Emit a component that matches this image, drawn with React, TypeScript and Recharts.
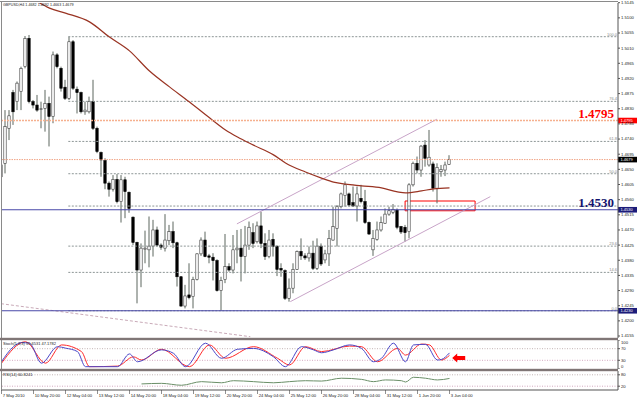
import React from "react";
import {
  Bar,
  ComposedChart,
  Line,
  ReferenceArea,
  ReferenceDot,
  ReferenceLine,
  XAxis,
  YAxis,
} from "recharts";

// GBPUSD H4, 7 May 2010 - 3 Jun 2010, one entry per bar
const opens = [
  1.4628, 1.4668, 1.4772, 1.4878, 1.4851, 1.4881, 1.4955, 1.5039, 1.4851, 1.4841,
  1.4829, 1.4831, 1.4846, 1.4807, 1.499, 1.495, 1.4894, 1.4861, 1.5029, 1.4888,
  1.4878, 1.4821, 1.4821, 1.4851, 1.4772, 1.47, 1.4676, 1.4609, 1.4591, 1.462,
  1.4554, 1.4619, 1.4582, 1.4508, 1.4433, 1.4351, 1.4413, 1.4411, 1.4422, 1.447,
  1.4425, 1.4416, 1.4438, 1.4465, 1.4432, 1.4331, 1.4244, 1.4277, 1.4272, 1.4323,
  1.4399, 1.444, 1.4393, 1.4389, 1.4379, 1.429, 1.4323, 1.4361, 1.4351, 1.4411,
  1.4416, 1.4391, 1.4425, 1.4462, 1.4435, 1.4482, 1.443, 1.4391, 1.4442, 1.4421,
  1.4356, 1.4349, 1.4267, 1.4297, 1.4353, 1.4406, 1.4393, 1.4387, 1.4401, 1.4356,
  1.4422, 1.4381, 1.4399, 1.444, 1.4475, 1.4539, 1.4572, 1.4577, 1.4551, 1.4541,
  1.4564, 1.4554, 1.4492, 1.4411, 1.4442, 1.447, 1.449, 1.4517, 1.4522, 1.4529,
  1.448, 1.4478, 1.4465, 1.4604, 1.4668, 1.4648, 1.4722, 1.4663, 1.4666, 1.4594,
  1.4643, 1.4648, 1.4665,
];
const highs = [
  1.4673, 1.4826, 1.4826, 1.4886, 1.4911, 1.4955, 1.5046, 1.5049, 1.4856, 1.4871,
  1.4851, 1.4886, 1.4866, 1.5, 1.4995, 1.4955, 1.4916, 1.5044, 1.5034, 1.4896,
  1.4881, 1.4851, 1.4866, 1.4916, 1.4777, 1.4703, 1.4683, 1.4614, 1.4633, 1.4636,
  1.4633, 1.4628, 1.4584, 1.451, 1.4435, 1.443, 1.4468, 1.451, 1.45, 1.448,
  1.443, 1.4517, 1.4485, 1.4495, 1.4435, 1.4333, 1.4307, 1.4371, 1.4331, 1.4401,
  1.4448, 1.4465, 1.4399, 1.4401, 1.4383, 1.4331, 1.4458, 1.4371, 1.4455, 1.447,
  1.4473, 1.4482, 1.4495, 1.449, 1.4495, 1.4524, 1.446, 1.447, 1.446, 1.4425,
  1.4371, 1.4353, 1.4326, 1.4371, 1.4409, 1.4445, 1.4401, 1.4421, 1.4438, 1.4445,
  1.443, 1.4411, 1.447, 1.4539, 1.4544, 1.4581, 1.4614, 1.4581, 1.4599, 1.4599,
  1.4604, 1.4589, 1.4495, 1.447, 1.4495, 1.451, 1.4534, 1.4539, 1.4547, 1.4534,
  1.4482, 1.4485, 1.4609, 1.4673, 1.4688, 1.4722, 1.4737, 1.4767, 1.4673, 1.4668,
  1.4663, 1.4673, 1.4692,
];
const lows = [
  1.4599, 1.4638, 1.4737, 1.4782, 1.4826, 1.4826, 1.495, 1.4846, 1.4831, 1.4821,
  1.4772, 1.4762, 1.4718, 1.4787, 1.495, 1.4881, 1.4856, 1.4856, 1.4886, 1.4816,
  1.4816, 1.4812, 1.4816, 1.4767, 1.4698, 1.4628, 1.4591, 1.4569, 1.4584, 1.4549,
  1.4492, 1.4505, 1.4521, 1.4425, 1.4252, 1.43, 1.4371, 1.4359, 1.4391, 1.4421,
  1.4411, 1.4406, 1.4425, 1.4416, 1.4302, 1.4242, 1.4237, 1.4264, 1.4237, 1.432,
  1.4393, 1.4389, 1.4371, 1.432, 1.4287, 1.423, 1.4312, 1.4346, 1.4341, 1.4371,
  1.4317, 1.4341, 1.4411, 1.4416, 1.443, 1.4416, 1.4381, 1.4386, 1.4391, 1.4333,
  1.4331, 1.4262, 1.4257, 1.4282, 1.4351, 1.4381, 1.4381, 1.4376, 1.4351, 1.4351,
  1.4363, 1.4371, 1.4363, 1.4438, 1.4421, 1.4534, 1.4539, 1.4539, 1.4539, 1.4495,
  1.4549, 1.4488, 1.4455, 1.4393, 1.4438, 1.4465, 1.4488, 1.4512, 1.4517, 1.4472,
  1.4458, 1.4435, 1.4445, 1.4599, 1.4638, 1.4628, 1.4658, 1.4658, 1.4584, 1.4549,
  1.4628, 1.463, 1.4663,
];
const closes = [
  1.4663, 1.4777, 1.4809, 1.4821, 1.4906, 1.495, 1.5039, 1.4851, 1.4841, 1.4826,
  1.483, 1.4846, 1.4807, 1.499, 1.4955, 1.4891, 1.4861, 1.5029, 1.4891, 1.4878,
  1.4821, 1.4826, 1.4851, 1.4772, 1.4703, 1.4678, 1.4609, 1.4591, 1.462, 1.4554,
  1.4619, 1.4584, 1.4534, 1.4433, 1.4351, 1.4416, 1.4416, 1.4422, 1.447, 1.4425,
  1.4419, 1.444, 1.4465, 1.4432, 1.4331, 1.4244, 1.4274, 1.4269, 1.4323, 1.4399,
  1.444, 1.4391, 1.4389, 1.4379, 1.429, 1.432, 1.4361, 1.4351, 1.4411, 1.4416,
  1.4391, 1.4425, 1.4478, 1.443, 1.4482, 1.443, 1.4391, 1.444, 1.4421, 1.4353,
  1.4351, 1.4267, 1.4297, 1.4353, 1.4406, 1.4393, 1.4387, 1.4401, 1.4356, 1.4422,
  1.4369, 1.4399, 1.4445, 1.448, 1.4539, 1.4577, 1.4604, 1.4544, 1.4541, 1.4577,
  1.4554, 1.4492, 1.4458, 1.4445, 1.447, 1.4492, 1.4517, 1.4527, 1.4531, 1.4478,
  1.4464, 1.4462, 1.4604, 1.4668, 1.4648, 1.4719, 1.4683, 1.4686, 1.4594, 1.4656,
  1.465, 1.4663, 1.4679,
];

// moving average: [bar, price]
const maPoints: [number, number][] = [
  [8, 1.5155], [12, 1.5129], [16, 1.5114], [22, 1.5088], [27, 1.5043], [32, 1.5002],
  [37, 1.4942], [42, 1.4895], [47, 1.485], [52, 1.4803], [56, 1.4767], [59, 1.4746],
  [63, 1.4722], [68, 1.4693], [71, 1.4669], [76, 1.4642], [80, 1.4624], [83, 1.4612],
  [86, 1.4606], [90, 1.4601], [95, 1.4595], [99, 1.4583], [101, 1.458], [105, 1.4586],
  [108, 1.4592], [112, 1.4595],
];

// stochastic (5,3,3) turning points: [bar, value]
const stochMain: [number, number][] = [
  [0, 25], [3, 77], [5, 91], [7, 89], [10, 20], [14, 77], [16, 72], [19, 60], [21, 8],
  [29, 8], [32, 52], [34, 25], [40, 66], [43, 54], [46, 8], [51, 89], [55, 37], [59, 68],
  [63, 71], [68, 42], [71, 8], [75, 77], [78, 66], [80, 56], [83, 66], [87, 83], [90, 71],
  [93, 25], [95, 37], [98, 89], [101, 25], [103, 83], [106, 85], [109, 31], [110, 33],
  [112, 55.65],
];
const stochSignal: [number, number][] = [
  [0, 20], [6, 94], [11, 20], [15, 83], [20, 60], [22, 8], [29, 10], [33, 42], [35, 31],
  [40, 68], [47, 8], [52, 83], [56, 37], [63, 77], [69, 37], [72, 14], [76, 77], [80, 60],
  [87, 79], [90, 77], [94, 25], [99, 71], [101, 48], [105, 86], [107, 83], [110, 31],
  [112, 47.18],
];

// RSI(14): [bar, value]
const rsiPoints: [number, number][] = [
  [35, 32], [40, 35], [45, 25], [50, 44], [55, 38], [58, 49], [63, 44], [68, 38],
  [72, 44], [76, 49], [80, 47], [85, 62], [90, 56], [93, 44], [96, 53], [100, 49],
  [101, 42], [103, 67], [106, 62], [109, 53], [112, 60.82],
];

const timeTickBars = [0, 8, 16, 24, 32, 40, 48, 56, 64, 72, 80, 88, 96, 104, 112];
const timeTickLabels = [
  "7 May 2010", "10 May 20:00", "12 May 04:00", "13 May 12:00", "14 May 20:00",
  "18 May 04:00", "19 May 12:00", "20 May 20:00", "24 May 04:00", "25 May 12:00",
  "26 May 20:00", "28 May 04:00", "31 May 12:00", "1 Jun 20:00", "3 Jun 04:00",
];

const priceTicks = [
  1.4155, 1.42, 1.4245, 1.429, 1.4335, 1.438, 1.4425, 1.447, 1.4515, 1.456, 1.4605,
  1.465, 1.4695, 1.474, 1.4785, 1.483, 1.4875, 1.492, 1.4965, 1.501, 1.5055, 1.51,
  1.5145,
];

// fibonacci retracement levels drawn on the chart
const fibPrices = [1.5044, 1.4852, 1.4733, 1.4637, 1.4541, 1.4422, 1.4344, 1.423];
const fibLabels = ["100.0", "76.4", "61.8", "50.0", "", "23.6", "14.6", "0.0"];
const fibStartBar = 16.7;

const resistance = 1.4795;
const support = 1.4530;
const bid = 1.4679;
const swingLow = 1.423;

const upperChannel = [{ x: 58.85, y: 1.4488 }, { x: 108.85, y: 1.4799 }];
const lowerChannel = [{ x: 72.2, y: 1.4257 }, { x: 122.2, y: 1.4569 }];
const oldTrend = [{ x: -0.125, y: 1.4251 }, { x: 62.2, y: 1.4153 }];

const X_DOMAIN: [number, number] = [-0.125, 154.125];
const FONT = "Liberation Sans, Arial, sans-serif";

const pick = (pts: [number, number][], i: number) => {
  const f = pts.find((p) => p[0] === i);
  return f ? f[1] : null;
};

const rows = opens.map((o, i) => ({
  i,
  o,
  h: highs[i],
  l: lows[i],
  c: closes[i],
  ma: pick(maPoints, i),
  k: pick(stochMain, i),
  d: pick(stochSignal, i),
  rsi: pick(rsiPoints, i),
}));

const Candle = (props: any) => {
  const { x, y, width, height, payload } = props;
  if (x == null || !payload) return null;
  const { o, h, l, c } = payload;
  const span = h - l || 1e-9;
  const toY = (p: number) => y + ((h - p) / span) * height;
  const cx = x + width / 2;
  const up = c >= o;
  const top = toY(Math.max(o, c));
  const bot = toY(Math.min(o, c));
  return (
    <g>
      <line x1={cx} x2={cx} y1={y} y2={y + height} stroke="#5d675f" strokeWidth={1} />
      <rect
        x={cx - 1.2}
        y={top}
        width={2.4}
        height={Math.max(bot - top, 0.7)}
        fill={up ? "#ffffff" : "#000000"}
        stroke={up ? "#3a3a3a" : "#000000"}
        strokeWidth={0.6}
      />
    </g>
  );
};

const PriceTick = (props: any) => {
  const { x, y, payload } = props;
  return (
    <text x={x} y={y} dy={1.4} fontSize={4.2} fill="#222" fontFamily={FONT}>
      {payload.value.toFixed(4)}
    </text>
  );
};

const levelTick = (top: number, bottom: number) => (props: any) => {
  const { x, y, payload } = props;
  let dy = 1.4;
  if (payload.value === top) dy += 2.3;
  if (payload.value === bottom) dy -= 2;
  return (
    <text x={x} y={y} dy={dy} fontSize={4.2} fill="#222" fontFamily={FONT}>
      {payload.value}
    </text>
  );
};

const TimeTick = (props: any) => {
  const { x, y, payload } = props;
  const k = timeTickBars.indexOf(payload.value);
  return (
    <g>
      <line x1={x} x2={x} y1={y - 3} y2={y + 1} stroke="#444" strokeWidth={0.6} />
      <text x={x + 1.2} y={y + 4} fontSize={4.2} fill="#222" fontFamily={FONT}>
        {timeTickLabels[k]}
      </text>
    </g>
  );
};

const fibLabel = (text: string) => (p: any) => {
  const vb = p.viewBox;
  if (!vb || !text) return null;
  return (
    <text x={vb.x + vb.width - 1} y={vb.y - 1} textAnchor="end" fontSize={4} fill="#8a8a8a" fontFamily={FONT}>
      {text}
    </text>
  );
};

const boxLabel = (text: string, fill: string, big?: { color: string }) => (p: any) => {
  const vb = p.viewBox;
  if (!vb) return null;
  const right = vb.x + vb.width;
  return (
    <g>
      {big && (
        <text
          x={right - 4}
          y={vb.y - 2.3}
          textAnchor="end"
          fontSize={13}
          fontWeight="bold"
          fill={big.color}
          fontFamily="Liberation Serif, Times New Roman, serif"
        >
          {text}
        </text>
      )}
      <rect x={right} y={vb.y - 2.8} width={19} height={5.6} fill={fill} />
      <text x={right + 2.5} y={vb.y + 1.3} fontSize={4} fill="#fff" fontFamily={FONT}>
        {text}
      </text>
    </g>
  );
};

const LeftArrow = (props: any) => {
  const { cx, cy } = props;
  if (cx == null) return null;
  const pts = [
    [cx - 6.5, cy],
    [cx - 1.5, cy - 4.5],
    [cx - 1.5, cy - 2],
    [cx + 6.5, cy - 2],
    [cx + 6.5, cy + 2],
    [cx - 1.5, cy + 2],
    [cx - 1.5, cy + 4.5],
  ]
    .map((p) => p.join(","))
    .join(" ");
  return <polygon points={pts} fill="#ff0000" />;
};

export default function App() {
  return (
    <div
      style={{
        position: "fixed",
        left: 0,
        top: 0,
        width: 637,
        height: 399,
        background: "#ffffff",
        overflow: "hidden",
      }}
    >
      {/* main price window */}
      <div style={{ position: "absolute", left: 0, top: 0 }}>
        <ComposedChart width={637} height={340} data={rows} margin={{ top: 3, right: 0, bottom: 2, left: 1 }}>
          <XAxis dataKey="i" type="number" domain={X_DOMAIN} allowDataOverflow hide />
          <YAxis
            orientation="right"
            width={19}
            type="number"
            domain={[1.41491, 1.51441]}
            allowDataOverflow
            ticks={priceTicks}
            interval={0}
            tick={<PriceTick />}
            tickSize={2}
            tickMargin={1}
            tickLine={{ stroke: "#555" }}
            axisLine={{ stroke: "#555" }}
          />
          {fibPrices.map((p, k) => (
            <ReferenceLine
              key={"fib" + k}
              segment={[{ x: fibStartBar, y: p }, { x: X_DOMAIN[1], y: p }]}
              stroke="#8d9696"
              strokeDasharray="2 1.5"
              label={fibLabel(fibLabels[k])}
            />
          ))}
          <ReferenceLine segment={oldTrend} stroke="#c9aab8" strokeDasharray="3 2" />
          <ReferenceLine segment={upperChannel} stroke="#c8a4c8" />
          <ReferenceLine segment={lowerChannel} stroke="#c8a4c8" />
          <ReferenceLine y={bid} stroke="#f0a486" strokeDasharray="1.5 1" label={boxLabel("1.4679", "#000000")} />
          <ReferenceLine y={swingLow} stroke="#4848a8" label={boxLabel("1.4230", "#1c1c7a")} />
          <ReferenceArea
            x1={100.9}
            x2={118.4}
            y1={1.4527}
            y2={1.4556}
            fill="none"
            fillOpacity={0}
            stroke="#ff0000"
            strokeWidth={1}
          />
          <Line
            dataKey="ma"
            type="monotone"
            connectNulls
            dot={false}
            stroke="#993322"
            strokeWidth={1.2}
            isAnimationActive={false}
          />
          <Bar dataKey={(d: any) => [d.l, d.h]} barSize={3} shape={(p: any) => <Candle {...p} />} isAnimationActive={false} />
          <ReferenceLine
            y={resistance}
            stroke="#f5b08e"
            strokeWidth={1.5}
            strokeDasharray="2 1"
            label={boxLabel("1.4795", "#ff0000", { color: "#ff0000" })}
          />
          <ReferenceLine y={support} stroke="#4848a8" label={boxLabel("1.4530", "#1c1c7a", { color: "#14146e" })} />
        </ComposedChart>
      </div>

      {/* stochastic window */}
      <div style={{ position: "absolute", left: 0, top: 340 }}>
        <ComposedChart width={637} height={29} data={rows} margin={{ top: 0, right: 0, bottom: 0, left: 1 }}>
          <XAxis dataKey="i" type="number" domain={X_DOMAIN} allowDataOverflow hide />
          <YAxis
            orientation="right"
            width={19}
            type="number"
            domain={[0, 100]}
            allowDataOverflow
            ticks={[0, 30, 70, 100]}
            interval={0}
            tick={levelTick(100, 0)}
            tickSize={2}
            tickMargin={1}
            tickLine={{ stroke: "#555" }}
            axisLine={{ stroke: "#555" }}
          />
          <ReferenceLine y={70} stroke="#c4b4b4" strokeDasharray="1 1.5" />
          <ReferenceLine y={30} stroke="#d4a8c0" strokeDasharray="1 1.5" />
          <Line dataKey="d" type="monotone" connectNulls dot={false} stroke="#ff2a2a" strokeWidth={1} isAnimationActive={false} />
          <Line dataKey="k" type="monotone" connectNulls dot={false} stroke="#4b48c8" strokeWidth={1} isAnimationActive={false} />
          <ReferenceDot x={114.3} y={38} r={6} shape={(p: any) => <LeftArrow {...p} />} />
        </ComposedChart>
      </div>

      {/* RSI window with the time axis */}
      <div style={{ position: "absolute", left: 0, top: 371 }}>
        <ComposedChart width={637} height={28} data={rows} margin={{ top: 0, right: 0, bottom: 0, left: 1 }}>
          <XAxis
            dataKey="i"
            type="number"
            domain={X_DOMAIN}
            allowDataOverflow
            ticks={timeTickBars}
            interval={0}
            height={9}
            tick={<TimeTick />}
            tickSize={2}
            tickMargin={1}
            tickLine={false}
            axisLine={{ stroke: "#555" }}
          />
          <YAxis
            orientation="right"
            width={19}
            type="number"
            domain={[0, 100]}
            allowDataOverflow
            ticks={[20, 80]}
            interval={0}
            tick={levelTick(-1, -1)}
            tickSize={2}
            tickMargin={1}
            tickLine={{ stroke: "#555" }}
            axisLine={{ stroke: "#555" }}
          />
          <ReferenceLine y={80} stroke="#c4b4b4" strokeDasharray="1 1.5" />
          <ReferenceLine y={20} stroke="#d4a8c0" strokeDasharray="1 1.5" />
          <Line dataKey="rsi" type="monotone" connectNulls dot={false} stroke="#6b8f68" strokeWidth={1} isAnimationActive={false} />
        </ComposedChart>
      </div>

      {/* window frame, separators and indicator captions */}
      <svg width={637} height={399} style={{ position: "absolute", left: 0, top: 0, pointerEvents: "none" }}>
        <line x1={0} x2={618} y1={1.5} y2={1.5} stroke="#8a8a8a" strokeWidth={1} />
        <line x1={1.5} x2={1.5} y1={1} y2={390} stroke="#8a8a8a" strokeWidth={1} />
        <rect x={0} y={337.8} width={618} height={2.4} fill="#807676" />
        <rect x={0} y={368.8} width={618} height={2.4} fill="#807676" />
        <text x={3} y={6} fontSize={3.7} fill="#222" fontFamily={FONT}>
          GBPUSD,H4 1.4682 1.4692 1.4663 1.4679
        </text>
        <text x={3} y={345} fontSize={4} fill="#222" fontFamily={FONT}>
          Stoch(5,3,3) 55.6531 47.1782
        </text>
        <text x={3} y={376} fontSize={4} fill="#222" fontFamily={FONT}>
          RSI(14) 60.8241
        </text>
      </svg>
    </div>
  );
}
